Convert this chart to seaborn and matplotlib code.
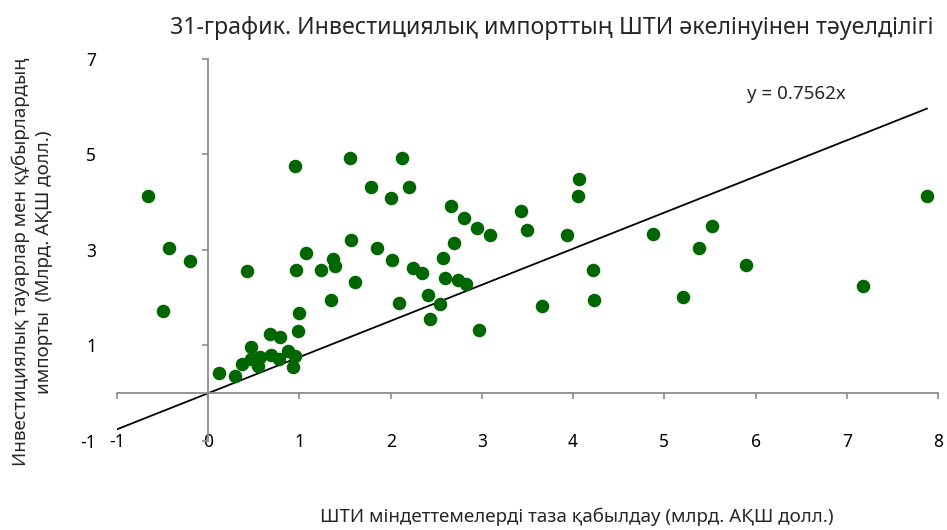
import numpy as np
import pandas as pd
import matplotlib
matplotlib.use("Agg")
import matplotlib.pyplot as plt
import seaborn as sns

# ==================== ДАННЫЕ ====================
# ШТИ міндеттемелерді таза қабылдау (млрд. АҚШ долл.)
fdi = [-0.66, -0.43, -0.20, -0.50,
       0.12, 0.29, 0.37, 0.47, 0.57, 0.55, 0.47, 0.68, 0.79, 0.69, 0.78, 0.87,
       0.95, 0.93, 0.99, 1.00,
       0.95, 1.56, 2.12, 1.78, 2.20, 2.00, 1.57, 1.85, 1.07, 2.02, 1.37, 1.39,
       0.43, 0.96, 1.24, 2.25, 2.34, 2.57, 1.61, 1.35, 2.09, 2.41,
       2.66, 2.80, 2.95, 3.09, 2.69, 2.60, 2.74, 2.83, 2.54, 2.43, 2.97,
       3.43, 3.50, 3.93, 4.07, 4.05, 4.22, 4.23, 3.66,
       4.88, 5.52, 5.38, 5.89, 5.20, 7.18, 7.88]
# Инвестициялық импорт (млрд. АҚШ долл.)
imports = [4.13, 3.04, 2.76, 1.72,
           0.43, 0.35, 0.61, 0.71, 0.76, 0.57, 0.97, 1.23, 1.18, 0.80, 0.71, 0.88,
           0.78, 0.54, 1.31, 1.68,
           4.75, 4.93, 4.93, 4.31, 4.31, 4.08, 3.20, 3.04, 2.93, 2.78, 2.80, 2.66,
           2.55, 2.58, 2.57, 2.62, 2.51, 2.83, 2.32, 1.95, 1.89, 2.05,
           3.91, 3.67, 3.46, 3.32, 3.15, 2.41, 2.37, 2.28, 1.86, 1.56, 1.33,
           3.81, 3.41, 3.32, 4.48, 4.13, 2.58, 1.95, 1.83,
           3.33, 3.50, 3.04, 2.69, 2.02, 2.24, 4.13]
slope = 0.7562

x_ticks = [-1, 0, 1, 2, 3, 4, 5, 6, 7, 8]
y_ticks = [-1, 1, 3, 5, 7]

df = pd.DataFrame({"fdi": fdi, "imports": imports})
trend = pd.DataFrame({"x": [-1, max(fdi)]})
trend["y"] = slope * trend["x"]

# ==================== ГРАФИК ====================
sns.set_style("white")
plt.rcParams['font.family'] = ['Noto Sans', 'DejaVu Sans']
plt.rcParams['axes.unicode_minus'] = False  # обычный дефис, как в оригинале

fig = plt.figure(figsize=(9.47, 5.30), dpi=100)
ax = fig.add_axes([0.1235, 0.168, 0.867, 0.721])

sns.lineplot(data=trend, x="x", y="y", color="black", linewidth=1.3, ax=ax)
sns.scatterplot(data=df, x="fdi", y="imports", color="#006600", s=95,
                linewidth=0, ax=ax, clip_on=False, zorder=3)

ax.set_xlim(-1, 8)
ax.set_ylim(-1, 7)
ax.set_xticks(x_ticks)
ax.set_yticks(y_ticks)
ax.set_xlabel("")
ax.set_ylabel("")

# оси пересекаются в нуле
for side in ["top", "right"]:
    ax.spines[side].set_visible(False)
ax.spines["left"].set_position(("data", 0))
ax.spines["bottom"].set_position(("data", 0))
for side in ["left", "bottom"]:
    ax.spines[side].set_color("#8c8c8c")
    ax.spines[side].set_linewidth(1.3)

ax.tick_params(axis="both", direction="out", length=4.5, width=1.2,
               color="#8c8c8c", labelsize=12.5, labelcolor="black")
ax.tick_params(axis="x", bottom=True, pad=24)
ax.tick_params(axis="y", left=True, pad=76)

ax.text(6.45, 6.26, f"y = {slope}x", fontsize=13.5, ha="center", va="center")

fig.text(0.583, 0.947, "31-график. Инвестициялық импорттың ШТИ әкелінуінен тәуелділігі",
         fontsize=16.7, ha="center", va="center")
fig.text(0.609, 0.025, "ШТИ міндеттемелерді таза қабылдау (млрд. АҚШ долл.)",
         fontsize=13.5, ha="center", va="center")
fig.text(0.034, 0.506, "Инвестициялық тауарлар мен құбырлардың\nимпорты  (Млрд. АҚШ долл.)",
         fontsize=13.5, ha="center", va="center", rotation=90, linespacing=1.3)

plt.savefig("out.png", dpi=100)
